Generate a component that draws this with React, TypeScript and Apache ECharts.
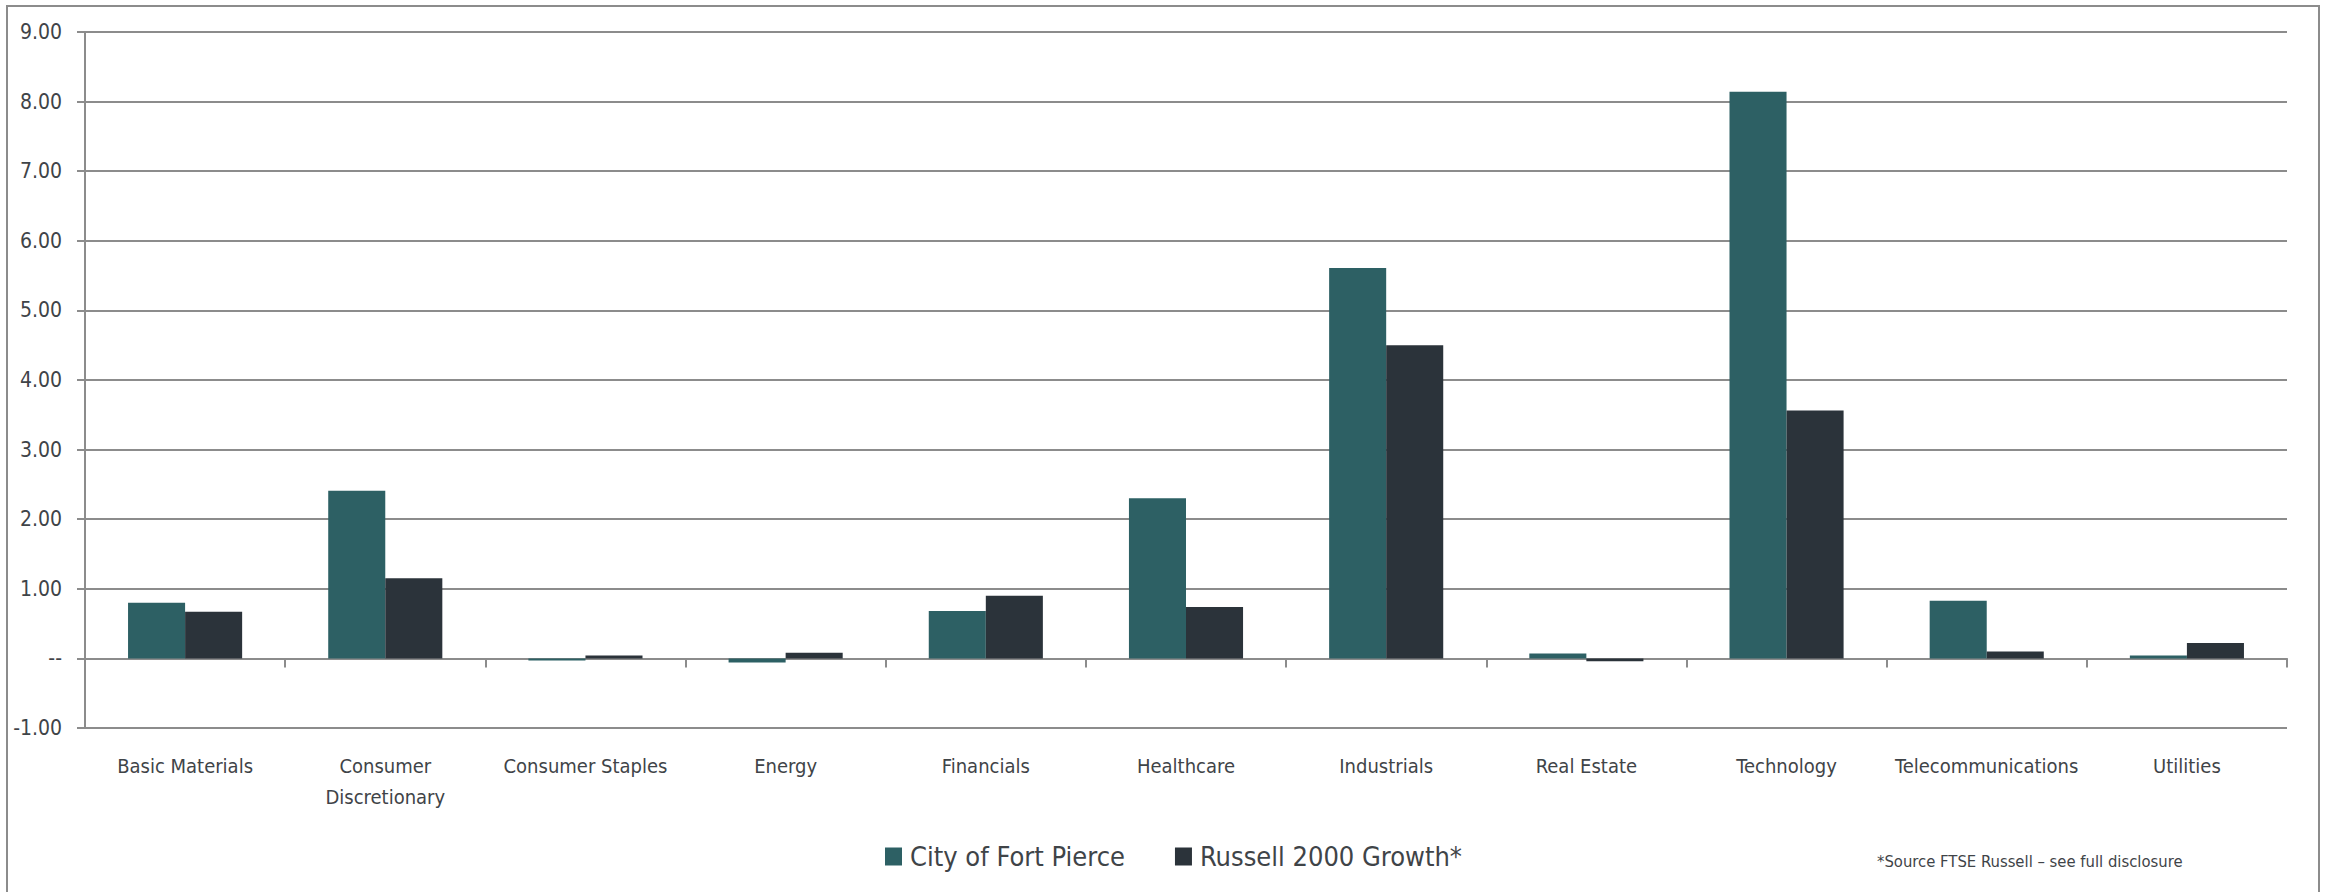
import React, { useEffect, useRef } from "react";
import * as echarts from "echarts";

const categories = [
  "Basic Materials",
  "Consumer\nDiscretionary",
  "Consumer Staples",
  "Energy",
  "Financials",
  "Healthcare",
  "Industrials",
  "Real Estate",
  "Technology",
  "Telecommunications",
  "Utilities",
];
const fortPierce = [0.8, 2.41, -0.03, -0.06, 0.68, 2.3, 5.61, 0.07, 8.14, 0.83, 0.04];
const russell = [0.67, 1.15, 0.04, 0.08, 0.9, 0.74, 4.5, -0.04, 3.56, 0.1, 0.22];
const seriesNames = ["City of Fort Pierce", "Russell 2000 Growth*"];
const footnote = "*Source FTSE Russell \u2013 see full disclosure";

const FONT = "'Liberation Sans Narrow', 'Arial Narrow', 'DejaVu Sans Condensed', sans-serif";
const TEXT = "#3f4448";
const GRID = "#8c8c8c";

export default function App() {
  const ref = useRef<HTMLDivElement>(null);
  useEffect(() => {
    if (!ref.current) return;
    const chart = echarts.init(ref.current, undefined, { renderer: "svg" });
    chart.setOption({
      animation: false,
      backgroundColor: "#ffffff",
      textStyle: { fontFamily: FONT, color: TEXT },
      grid: { left: 85, right: 41, top: 32, bottom: 164, containLabel: false },
      legend: {
        data: seriesNames,
        left: 880,
        top: 838,
        itemWidth: 17,
        itemHeight: 18,
        itemGap: 50,
        icon: "rect",
        textStyle: { fontFamily: FONT, fontSize: 27, color: TEXT, padding: [0, 0, 0, 3] },
      },
      xAxis: [
        {
          type: "category",
          data: categories,
          axisLine: { show: true, onZero: true, lineStyle: { color: GRID, width: 2 } },
          axisTick: { show: true, length: 9, lineStyle: { color: GRID, width: 2 } },
          axisLabel: { show: false },
          splitLine: { show: false },
        },
        {
          type: "category",
          data: categories,
          position: "bottom",
          axisLine: { show: false, onZero: false },
          axisTick: { show: false },
          axisLabel: {
            show: true,
            interval: 0,
            fontFamily: FONT,
            fontSize: 20,
            lineHeight: 31,
            margin: 22,
            color: TEXT,
          },
          splitLine: { show: false },
        },
      ],
      yAxis: {
        type: "value",
        min: -1,
        max: 9,
        interval: 1,
        axisLine: { show: true, lineStyle: { color: GRID, width: 2 } },
        axisTick: { show: true, length: 8, lineStyle: { color: GRID, width: 2 } },
        axisLabel: {
          fontFamily: FONT,
          fontSize: 21,
          color: TEXT,
          margin: 23,
          formatter: (v: number) => (v === 0 ? "--" : v.toFixed(2)),
        },
        splitLine: { show: true, lineStyle: { color: GRID, width: 2 } },
      },
      series: [
        {
          name: seriesNames[0],
          type: "bar",
          xAxisIndex: 0,
          data: fortPierce,
          itemStyle: { color: "#2D6064" },
          barGap: "0%",
          barCategoryGap: "43%",
        },
        {
          name: seriesNames[1],
          type: "bar",
          xAxisIndex: 0,
          data: russell,
          itemStyle: { color: "#2B333A" },
          barGap: "0%",
          barCategoryGap: "43%",
        },
      ],
      graphic: [
        {
          type: "rect",
          shape: { x: 7, y: 6, width: 2312, height: 900 },
          style: { fill: "none", stroke: GRID, lineWidth: 2 },
          silent: true,
        },
        {
          type: "text",
          x: 1877,
          y: 861,
          style: {
            text: footnote,
            fontFamily: FONT,
            fontSize: 16.5,
            fill: TEXT,
            verticalAlign: "middle",
          },
        },
      ],
    });
    return () => chart.dispose();
  }, []);
  return (
    <div
      ref={ref}
      style={{ position: "absolute", left: 0, top: 0, width: 2328, height: 892 }}
    />
  );
}
